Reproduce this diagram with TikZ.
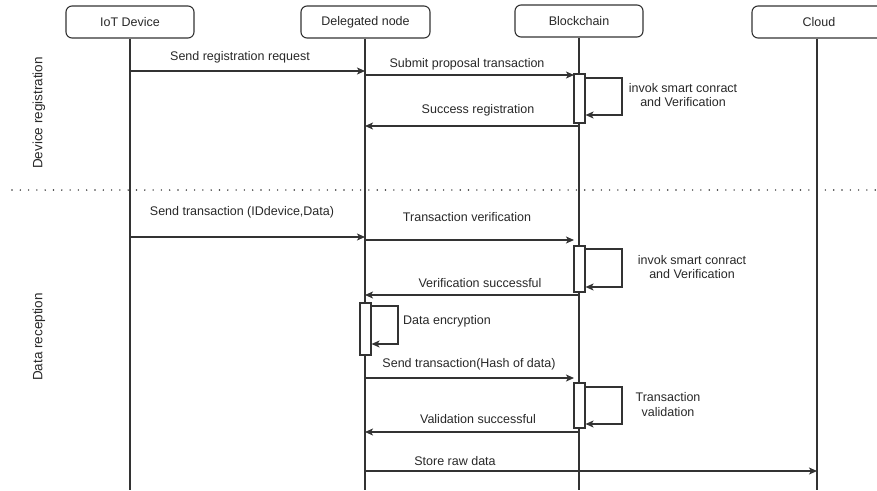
\documentclass[tikz,border=0pt]{standalone}
\usepackage{fontspec}
\setmainfont{Liberation Sans}
\usetikzlibrary{arrows.meta}
\definecolor{ink}{RGB}{51,51,51}
\definecolor{txt}{RGB}{40,40,40}

\begin{document}
\begin{tikzpicture}[x=1pt,y=-1pt,
  head/.style={draw=ink, line width=1.1pt, rounded corners=6pt, minimum width=128pt,
               minimum height=32pt, inner sep=0pt, font=\fontsize{12.5}{14}\selectfont,
               text=txt, fill=white},
  life/.style={draw=ink, line width=1.2pt},
  msg/.style={draw=ink, line width=1.2pt, -{Stealth[length=8pt,width=7pt,inset=2pt]}},
  lbl/.style={font=\fontsize{12.5}{14.5}\selectfont, text=txt, inner sep=0pt, align=center},
  act/.style={draw=ink, line width=1.1pt, fill=white, minimum width=11pt, inner sep=0pt},
  sect/.style={font=\fontsize{13.5}{15}\selectfont, text=txt, rotate=90, inner sep=0pt},
  sep/.style={draw=ink, line width=1.6pt, line cap=round, dash pattern=on 0pt off 8.3pt},
]
\clip (0,0) rectangle (877,490);
\useasboundingbox (0,0) rectangle (877,490);

% participants
\node[head] (iot)   at (130,22)   {IoT Device};
\node[head, minimum width=129pt] (dlg) at (365.5,22) {Delegated node};
\node[head] (bc)    at (579,21)   {Blockchain};
\node[head, minimum width=134pt] (cloud) at (819,22) {Cloud};

% lifeline ends
\coordinate (iotE)   at (130,490);
\coordinate (dlgE)   at (365,490);
\coordinate (bcE)    at (579,490);
\coordinate (cloudE) at (817,490);
\draw[life] (iot.south)   -- (iotE);
\draw[life] (dlg.south -| dlgE) -- (dlgE);
\draw[life] (bc.south)    -- (bcE);
\draw[life] (cloud.south -| cloudE) -- (cloudE);

% phase separator
\coordinate (sepL) at (12,190);
\coordinate (sepR) at (880,190);
\draw[sep] (sepL) -- (sepR);

% phase names
\node[sect] (ph1) at (39,113) {Device registration};
\node[sect] (ph2) at (39,337) {Data reception};

% activation bars
\node[act, minimum height=49pt] (a1) at (579.5,98.5) {};
\node[act, minimum height=46pt] (a2) at (579.5,269)  {};
\node[act, minimum height=52pt] (a3) at (365.5,329)  {};
\node[act, minimum height=45pt] (a4) at (579.5,405.5) {};

% message end points
\coordinate (m1a) at (130,71);   \coordinate (m1b) at (365,71);
\coordinate (m2a) at (365,75);   \coordinate (m2b) at (574,75);
\coordinate (m3a) at (579,126);  \coordinate (m3b) at (365,126);
\coordinate (m4a) at (130,237);  \coordinate (m4b) at (365,237);
\coordinate (m5a) at (365,240);  \coordinate (m5b) at (574,240);
\coordinate (m6a) at (579,295);  \coordinate (m6b) at (365,295);
\coordinate (m7a) at (365,378);  \coordinate (m7b) at (574,378);
\coordinate (m8a) at (579,432);  \coordinate (m8b) at (365,432);
\coordinate (m9a) at (365,471);  \coordinate (m9b) at (817,471);

% messages
\draw[msg] (m1a) -- (m1b);
\draw[msg] (m2a) -- (m2b);
\draw[msg] (m3a) -- (m3b);
\draw[msg] (m4a) -- (m4b);
\draw[msg] (m5a) -- (m5b);
\draw[msg] (m6a) -- (m6b);
\draw[msg] (m7a) -- (m7b);
\draw[msg] (m8a) -- (m8b);
\draw[msg] (m9a) -- (m9b);

% self calls
\draw[msg] (a1.east |- 0,78)  -- (622,78)  -- (622,115) -- (a1.east |- 0,115);
\draw[msg] (a2.east |- 0,249) -- (622,249) -- (622,287) -- (a2.east |- 0,287);
\draw[msg] (a3.east |- 0,306) -- (398,306) -- (398,344) -- (a3.east |- 0,344);
\draw[msg] (a4.east |- 0,387) -- (622,387) -- (622,424) -- (a4.east |- 0,424);

% message labels
\node[lbl] (l1) at (240,57)  {Send registration request};
\node[lbl] (l2) at (467,64)  {Submit proposal transaction};
\node[lbl] (l3) at (478,110) {Success registration};
\node[lbl] (l4) at (683,95)  {invok smart conract\\and Verification};
\node[lbl] (l5) at (242,212) {Send transaction (IDdevice,Data)};
\node[lbl] (l6) at (467,217) {Transaction verification};
\node[lbl] (l7) at (692,267) {invok smart conract\\and Verification};
\node[lbl] (l8) at (480,283) {Verification successful};
\node[lbl, anchor=west] (l9) at (403,321) {Data encryption};
\node[lbl] (l10) at (469,364) {Send transaction(Hash of data)};
\node[lbl] (l11) at (668,404.5) {Transaction\\validation};
\node[lbl] (l12) at (478,419) {Validation successful};
\node[lbl] (l13) at (455,461) {Store raw data};
\end{tikzpicture}
\end{document}
